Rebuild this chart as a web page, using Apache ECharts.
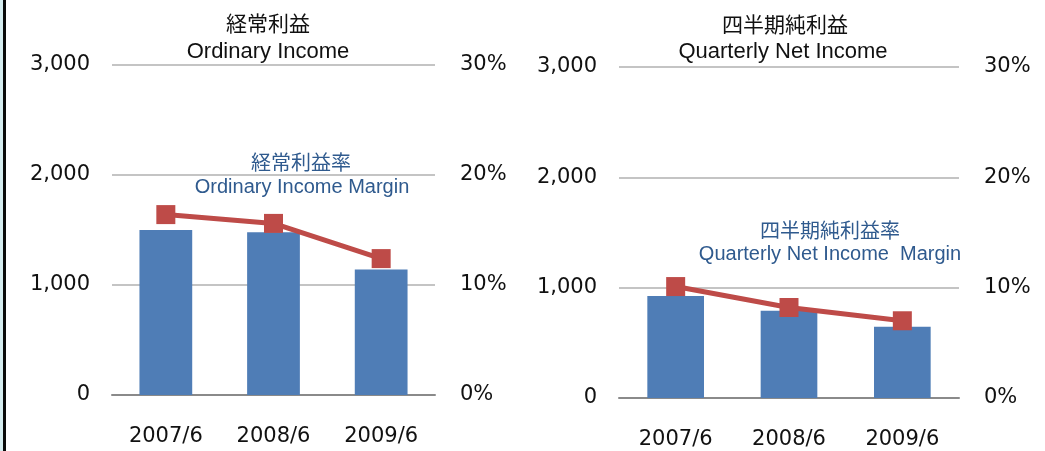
<!DOCTYPE html>
<html>
<head>
<meta charset="utf-8">
<script src="https://cdn.jsdelivr.net/npm/echarts@6/dist/echarts.min.js"></script>
<style>
  html, body { margin: 0; padding: 0; background: #fff; }
  #chart { width: 1045px; height: 451px; }
</style>
</head>
<body>
<div id="chart"></div>
<script>
// data
var periods = ["2007/6", "2008/6", "2009/6"];
var ordinaryIncome = [1500, 1480, 1140];
var ordinaryMargin = [16.4, 15.6, 12.4];
var netIncome = [925, 790, 645];
var netMargin = [10.1, 8.2, 7.0];
var amountTicks = [0, 3000, 1000];   // min, max, interval
var marginTicks = [0, 30, 10];

var latin = "'Liberation Sans', 'Noto Sans CJK JP', sans-serif";
var wide = "'DejaVu Sans', sans-serif";
var cjk = "'Noto Sans CJK JP', sans-serif";
var ink = "#111";
var barColor = "#4f7db6";
var lineColor = "#be4b48";
var noteColor = "#2f5a8e";

function fmtThousands(v) {
  return String(v).replace(/\B(?=(\d{3})+(?!\d))/g, ",");
}

function yAmount(gridIndex) {
  return {
    type: "value",
    gridIndex: gridIndex,
    min: amountTicks[0], max: amountTicks[1], interval: amountTicks[2],
    axisLine: { show: false },
    axisTick: { show: false },
    splitLine: { lineStyle: { color: "#c4c4c4", width: 2 } },
    axisLabel: { margin: 22, color: ink, fontSize: 21, fontFamily: wide, formatter: fmtThousands }
  };
}
function yMargin(gridIndex) {
  return {
    type: "value",
    gridIndex: gridIndex,
    position: "right",
    min: marginTicks[0], max: marginTicks[1], interval: marginTicks[2],
    axisLine: { show: false },
    axisTick: { show: false },
    splitLine: { show: false },
    axisLabel: { margin: 25, color: ink, fontSize: 21, fontFamily: wide, formatter: "{value}%" }
  };
}
function xCat(gridIndex) {
  return {
    type: "category",
    gridIndex: gridIndex,
    data: periods,
    axisLine: { lineStyle: { color: "#8a8a8a", width: 2 } },
    axisTick: { show: false },
    axisLabel: { margin: 31, color: ink, fontSize: 21, fontFamily: wide }
  };
}
function txt(x, y, text, size, color, font) {
  return {
    type: "text", x: x, y: y,
    style: { text: text, fill: color, fontSize: size, fontFamily: font, align: "center", verticalAlign: "middle" }
  };
}

var myChart = echarts.init(document.getElementById("chart"));
var option = {
  animation: false,
  grid: [
    { left: 112, right: 610, top: 65, bottom: 56 },
    { left: 619, right: 86, top: 67, bottom: 53 }
  ],
  xAxis: [xCat(0), xCat(1)],
  yAxis: [yAmount(0), yMargin(0), yAmount(1), yMargin(1)],
  series: [
    { type: "bar", xAxisIndex: 0, yAxisIndex: 0, data: ordinaryIncome, barWidth: "49%",
      itemStyle: { color: barColor } },
    { type: "line", xAxisIndex: 0, yAxisIndex: 1, data: ordinaryMargin,
      symbol: "rect", symbolSize: 19, lineStyle: { color: lineColor, width: 5 },
      itemStyle: { color: lineColor } },
    { type: "bar", xAxisIndex: 1, yAxisIndex: 2, data: netIncome, barWidth: "50%",
      itemStyle: { color: barColor } },
    { type: "line", xAxisIndex: 1, yAxisIndex: 3, data: netMargin,
      symbol: "rect", symbolSize: 19, lineStyle: { color: lineColor, width: 5 },
      itemStyle: { color: lineColor } }
  ],
  graphic: [
    { type: "rect", shape: { x: 0, y: 0, width: 3, height: 451 }, style: { fill: "#d5edf0" } },
    { type: "rect", shape: { x: 3, y: 0, width: 3, height: 451 }, style: { fill: "#0a0a0a" } },
    txt(268, 23, "経常利益", 21, ink, cjk),
    txt(268, 52, "Ordinary Income", 22, ink, latin),
    txt(301, 162, "経常利益率", 20, noteColor, cjk),
    txt(302, 187, "Ordinary Income Margin", 20, noteColor, latin),
    txt(785, 24, "四半期純利益", 21, ink, cjk),
    txt(783, 52, "Quarterly Net Income", 22, ink, latin),
    txt(830, 230, "四半期純利益率", 20, noteColor, cjk),
    txt(830, 254, "Quarterly Net Income  Margin", 20, noteColor, latin)
  ]
};
myChart.setOption(option);
window.onresize = function() {
  myChart.resize();
};
</script>
</body>
</html>
